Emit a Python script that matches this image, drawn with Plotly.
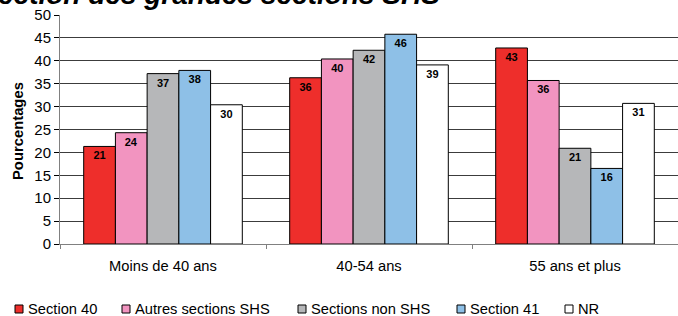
import plotly.graph_objects as go

categories = ["Moins de 40 ans", "40-54 ans", "55 ans et plus"]
series_names = ["Section 40", "Autres sections SHS", "Sections non SHS", "Section 41", "NR"]
section40 = [21.3, 36.3, 42.8]
autres_shs = [24.3, 40.4, 35.7]
non_shs = [37.2, 42.3, 20.9]
section41 = [37.9, 45.8, 16.5]
nr = [30.4, 39.1, 30.7]
labels = [[21, 36, 43], [24, 40, 36], [37, 42, 21], [38, 46, 16], [30, 39, 31]]
colors = ["#EE2E2B", "#F294C0", "#B6B7B9", "#8EC0E7", "#FFFFFF"]
y_ticks = [0, 5, 10, 15, 20, 25, 30, 35, 40, 45, 50]
title_text = "ection des grandes sections SHS"
y_title = "Pourcentages"

values = [section40, autres_shs, non_shs, section41, nr]

W, H = 678, 316
ML, MR, MT, MB = 60, 0, 15, 72
PW, PH = W - ML - MR, H - MT - MB


def px_x(px):
    return (px - ML) / PW


def px_y(py):
    return (H - MB - py) / PH


FONT = "Liberation Sans, Arial, sans-serif"

fig = go.Figure()
for name, vals, lab, col in zip(series_names, values, labels, colors):
    fig.add_trace(go.Bar(
        x=categories, y=vals, name=name,
        marker=dict(color=col, line=dict(color="#000000", width=1)),
        text=[str(v) for v in lab], textposition="inside", insidetextanchor="end",
        textfont=dict(family=FONT, size=11, color="#000000"),
        texttemplate="<b>%{text}</b>", textangle=0,
        cliponaxis=False, showlegend=False,
    ))

fig.update_layout(
    width=W, height=H,
    barmode="group", bargap=0.23, bargroupgap=0,
    plot_bgcolor="white", paper_bgcolor="white",
    margin=dict(l=ML, r=MR, t=MT, b=MB, autoexpand=False),
    font=dict(family=FONT, size=15, color="#000000"),
    showlegend=False,
    xaxis=dict(showline=True, linecolor="#808080", linewidth=1, automargin=False,
               ticks="outside", tickson="boundaries", ticklen=4, tickcolor="#808080",
               ticklabelstandoff=8, tickfont=dict(size=14.7)),
    yaxis=dict(range=[0, 50], tickvals=y_ticks, showline=True, linecolor="#808080",
               linewidth=1, ticks="outside", ticklen=5, tickcolor="#000000",
               automargin=False,
               showgrid=True, gridcolor="#3c3c3c", gridwidth=1, zeroline=False,
               tickfont=dict(size=15)),
)

# y-axis title
fig.add_annotation(text="<b>" + y_title + "</b>", xref="paper", yref="paper",
                   x=px_x(18), y=px_y(131), xanchor="center", yanchor="middle",
                   textangle=-90, showarrow=False,
                   font=dict(family=FONT, size=14.8, color="#000000"))

# cut-off title
fig.add_annotation(text="<b><i>" + title_text + "</i></b>",
                   xref="paper", yref="paper", x=px_x(-4), y=1.0, xanchor="left",
                   yanchor="bottom", yshift=2.5, showarrow=False,
                   font=dict(family=FONT, size=28, color="#000000"))

# custom legend (compact, as in the reference)
legend_px = [15, 122, 298, 457, 565]
for name, col, lx in zip(series_names, colors, legend_px):
    fig.add_shape(type="rect", xref="paper", yref="paper",
                  x0=px_x(lx), x1=px_x(lx + 8), y0=px_y(313), y1=px_y(305),
                  fillcolor=col, line=dict(color="#000000", width=1))
    fig.add_annotation(text=name, xref="paper", yref="paper",
                       x=px_x(lx + 11), y=px_y(308.5), xanchor="left", yanchor="middle",
                       showarrow=False, font=dict(family=FONT, size=14.7, color="#000000"))

fig.write_html("out.html", config={"displayModeBar": False},
               post_script="document.body.style.margin='0';document.body.style.overflow='hidden';")
